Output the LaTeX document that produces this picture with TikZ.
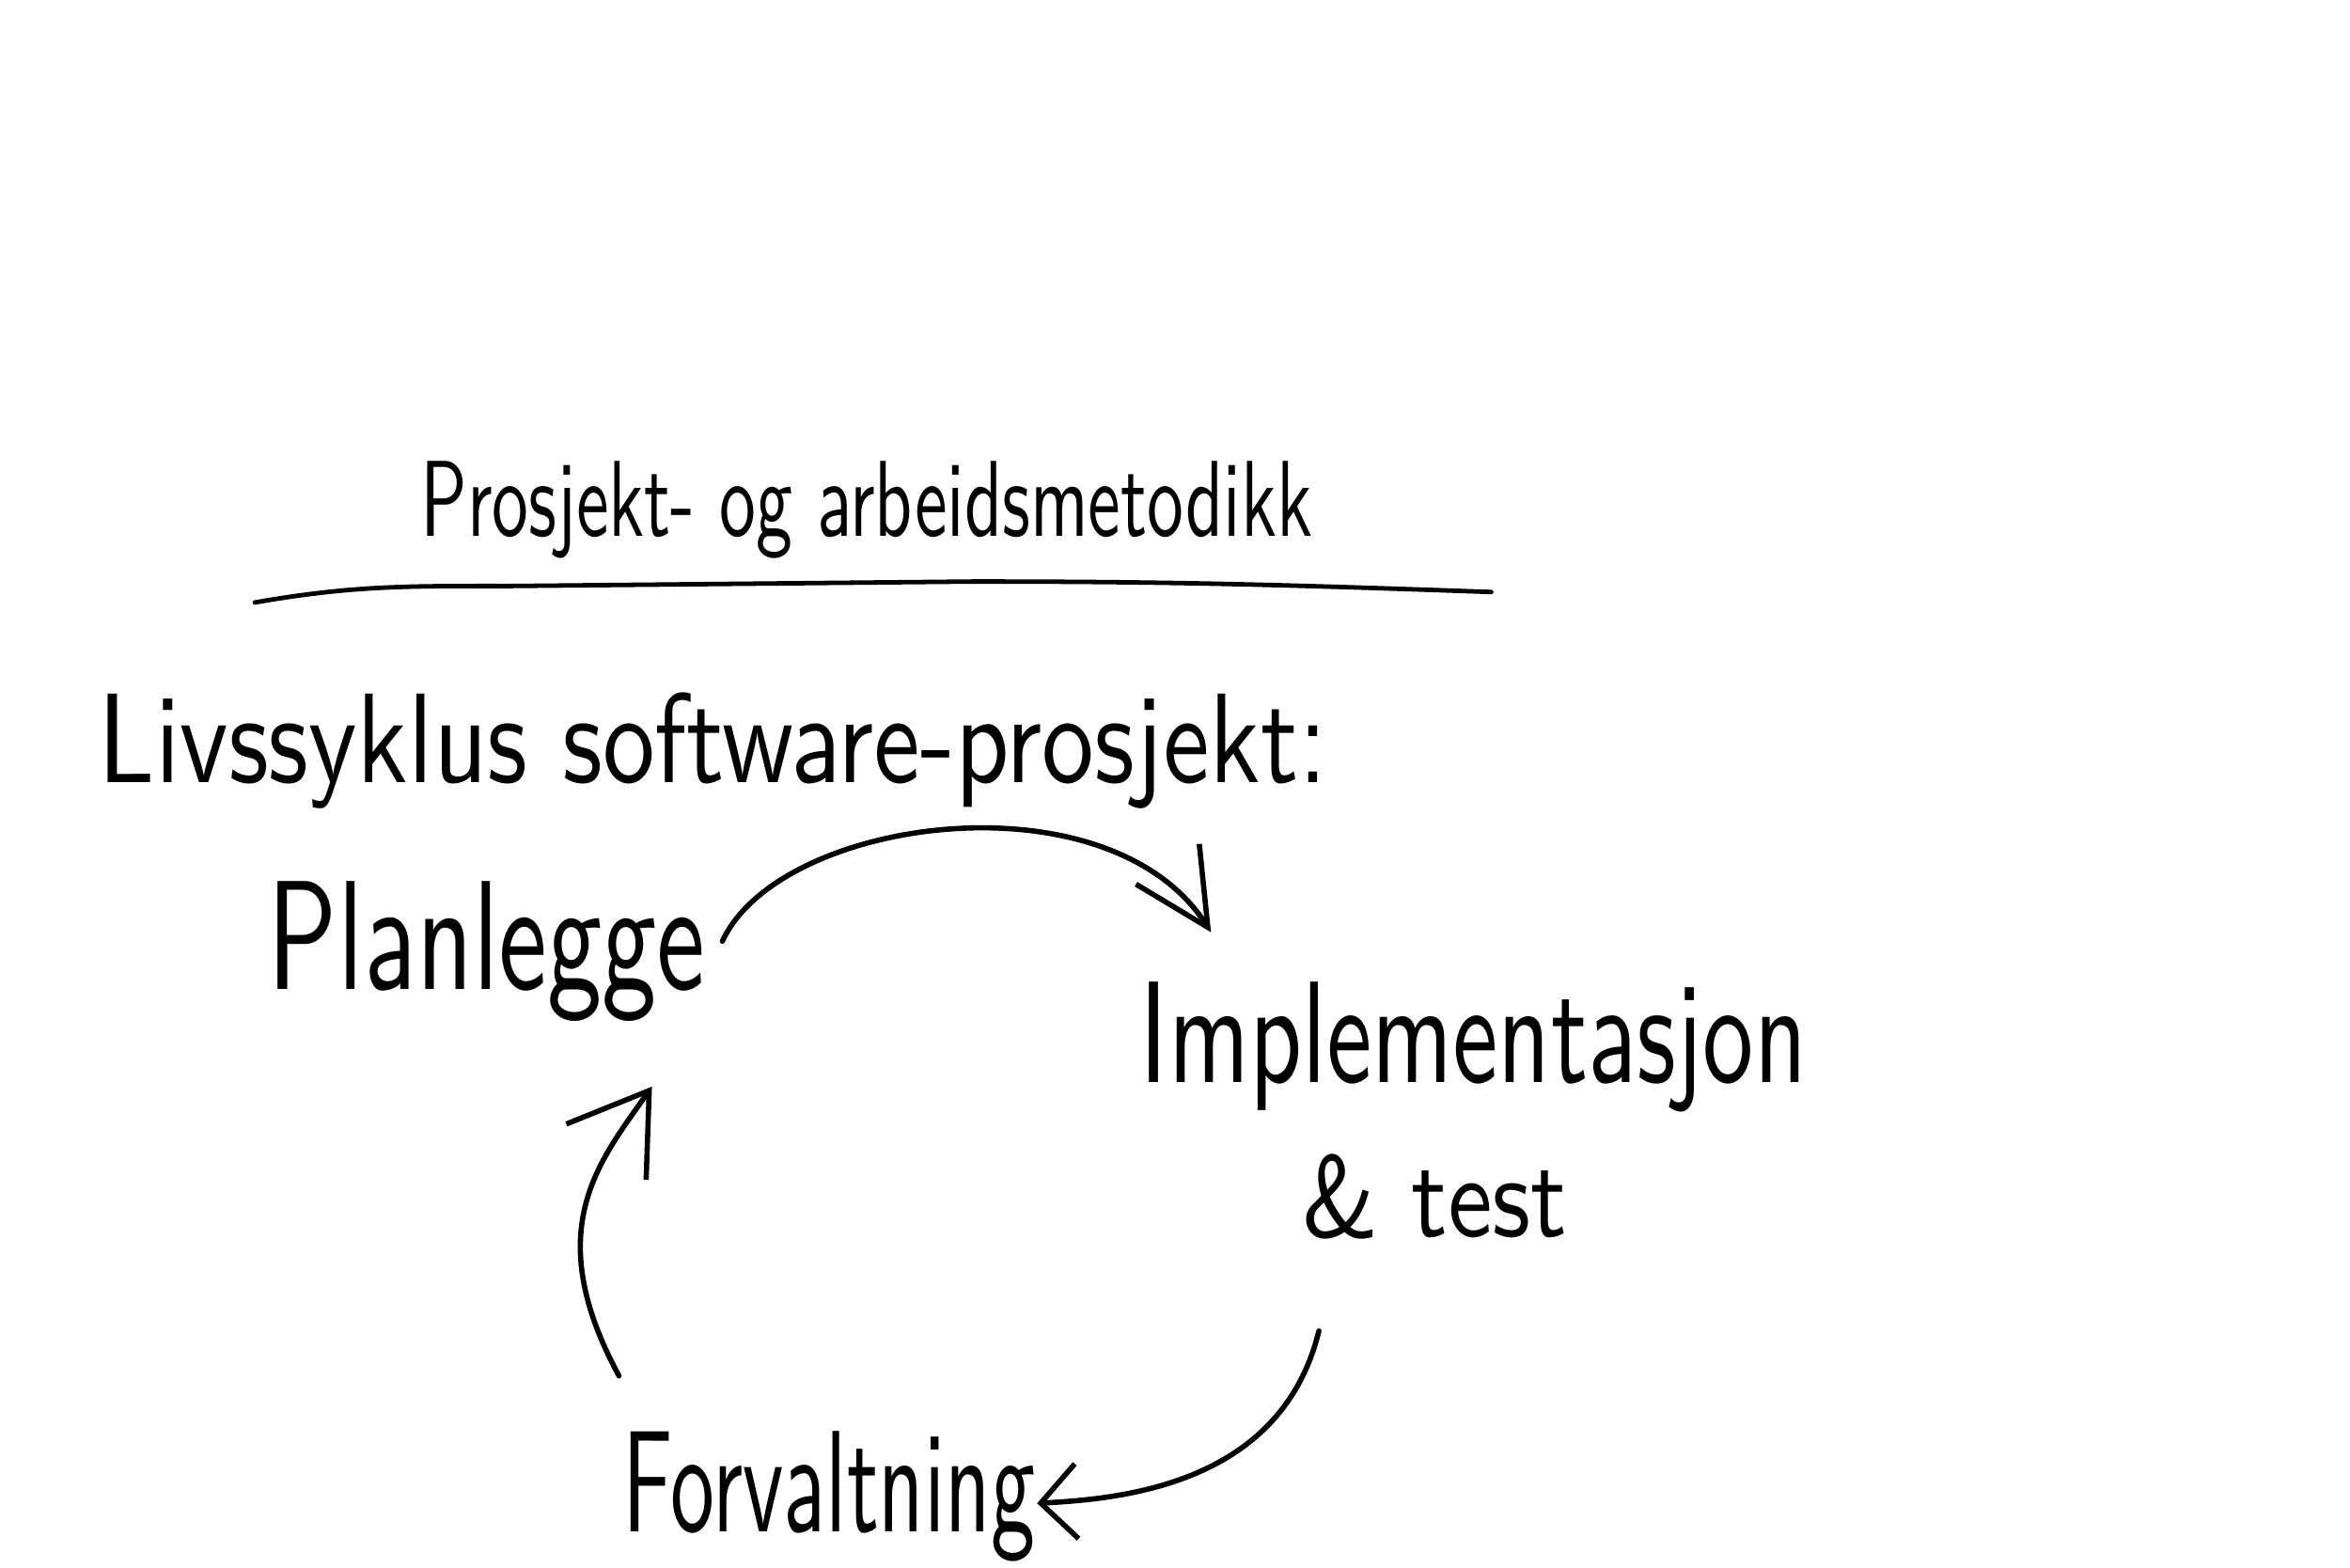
\documentclass[tikz,border=0pt]{standalone}
\usepackage{graphicx}
\usepackage{tikz}
\usetikzlibrary{calc,arrows.meta}
\def\hand#1#2#3{\resizebox{#1}{#2}{\sffamily #3}}
\tikzset{
	scrawl/.style={inner sep=0pt, anchor=base west},
	curvearrow/.style={line width=0.35mm, line cap=round}
}

\begin{document}
\begin{tikzpicture}
		%%%%% START %%%%%
		
		\fill[white] (0, 0) rectangle (15.68, -10.46);
		\useasboundingbox (0, 0) rectangle (15.68, -10.46);
		
		\node[scrawl] (title) at (2.80, -3.58) {\hand{5.95cm}{0.50cm}{Prosjekt- og arbeidsmetodikk}};
		\draw[line width=0.3mm, line cap=round] (1.70, -4.02) to[out=10, in=180] (3.4, -3.91) -- (6.5, -3.88) to[out=0, in=178] (9.95, -3.95);
		
		\node[scrawl] (cycle) at (0.65, -5.22) {\hand{8.20cm}{0.60cm}{Livssyklus software-prosjekt:}};
		
		\node[scrawl] (plan) at (1.78, -6.60) {\hand{2.92cm}{0.72cm}{Planlegge}};
		\node[scrawl] (impl) at (7.60, -7.22) {\hand{4.45cm}{0.67cm}{Implementasjon}};
		\node[scrawl] (test) at (8.68, -8.25) {\hand{1.77cm}{0.55cm}{\& test}};
		\node[scrawl] (drift) at (4.15, -10.22) {\hand{2.75cm}{0.67cm}{Forvaltning}};
		
		\coordinate (planout) at (4.82, -6.28);
		\coordinate (implin) at (8.08, -6.22);
		\coordinate (testout) at (8.80, -8.88);
		\coordinate (driftin) at (6.92, -10.03);
		\coordinate (driftout) at (4.13, -9.18);
		\coordinate (planin) at (4.35, -7.25);
		
		\draw[curvearrow, -{Straight Barb[length=5mm, width=5mm]}] (planout) .. controls (5.2, -5.45) and (7.4, -5.15) .. (implin);
		\draw[curvearrow, -{Straight Barb[length=2.4mm, width=5mm]}] (testout) .. controls (8.55, -9.9) and (7.5, -10.0) .. (driftin);
		\draw[curvearrow, -{Straight Barb[length=5mm, width=6.5mm]}] (driftout) .. controls (3.6, -8.2) and (4.0, -7.75) .. (planin);
		
		%%%%% END %%%%%
	\end{tikzpicture}
\end{document}
